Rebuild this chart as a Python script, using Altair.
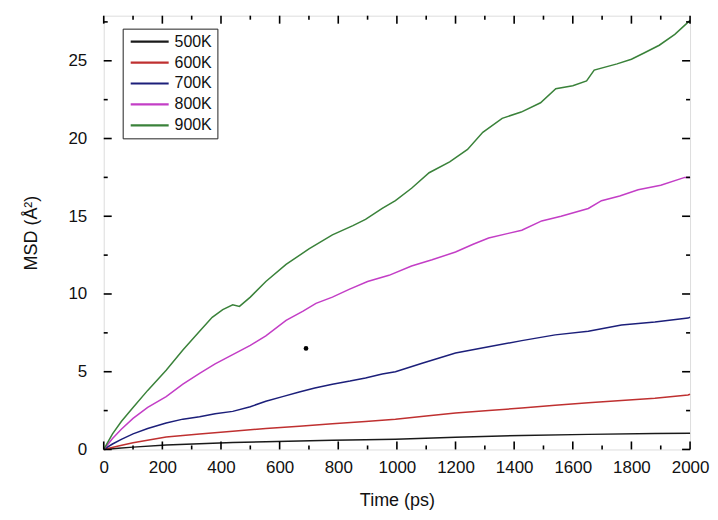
import altair as alt
import pandas as pd

# ---- data ----
series_names = ["500K", "600K", "700K", "800K", "900K"]
series_colors = ["#1a1a1a", "#bf3030", "#1c1f7a", "#c33ec6", "#3a823a"]

t_500 = [0, 50, 100, 213, 327, 440, 553, 667, 780, 893, 995, 1200, 1426, 1653, 1880, 2000]
v_500 = [0, 0.08, 0.15, 0.28, 0.37, 0.45, 0.5, 0.55, 0.6, 0.62, 0.66, 0.78, 0.9, 0.97, 1.02, 1.05]

t_600 = [0, 50, 100, 213, 327, 440, 553, 667, 780, 893, 995, 1100, 1200, 1313, 1426, 1540, 1653, 1766, 1880, 1993, 2000]
v_600 = [0, 0.22, 0.43, 0.8, 1.0, 1.17, 1.35, 1.5, 1.65, 1.8, 1.95, 2.15, 2.35, 2.5, 2.67, 2.85, 3.0, 3.15, 3.3, 3.5, 3.55]

t_700 = [0, 30, 60, 100, 150, 213, 270, 327, 380, 440, 500, 553, 610, 667, 720, 780, 840, 893, 950, 995,
         1086, 1200, 1313, 1426, 1540, 1653, 1766, 1880, 1993, 2000]
v_700 = [0, 0.35, 0.65, 1.0, 1.35, 1.7, 1.95, 2.1, 2.3, 2.45, 2.75, 3.1, 3.4, 3.7, 3.95, 4.2, 4.4, 4.6, 4.85, 5.0,
         5.55, 6.2, 6.6, 7.0, 7.37, 7.6, 8.0, 8.2, 8.45, 8.5]

t_800 = [0, 30, 60, 100, 150, 213, 270, 327, 380, 440, 500, 553, 622, 680, 724, 780, 837, 900, 973, 1050,
         1120, 1200, 1260, 1313, 1380, 1426, 1494, 1560, 1653, 1698, 1760, 1823, 1900, 1982, 2000]
v_800 = [0, 0.7, 1.3, 2.0, 2.7, 3.4, 4.2, 4.9, 5.5, 6.1, 6.7, 7.3, 8.3, 8.9, 9.4, 9.8, 10.3, 10.8, 11.2, 11.8,
         12.2, 12.7, 13.2, 13.6, 13.9, 14.1, 14.7, 15.0, 15.5, 16.0, 16.3, 16.7, 17.0, 17.5, 17.5]

t_900 = [0, 30, 60, 100, 150, 213, 270, 327, 370, 406, 440, 463, 500, 553, 622, 700, 780, 850, 893, 950,
         995, 1050, 1110, 1180, 1241, 1293, 1359, 1424, 1490, 1542, 1600, 1647, 1673, 1751, 1800, 1843,
         1895, 1948, 2000]
v_900 = [0, 1.0, 1.8, 2.7, 3.8, 5.1, 6.4, 7.6, 8.5, 9.0, 9.3, 9.2, 9.8, 10.8, 11.9, 12.9, 13.8, 14.4, 14.8, 15.5,
         16.0, 16.8, 17.8, 18.5, 19.3, 20.4, 21.3, 21.7, 22.3, 23.2, 23.4, 23.7, 24.4, 24.8, 25.1, 25.5,
         26.0, 26.7, 27.6]

dot_t = [690]
dot_v = [6.5]

x_major = [0, 200, 400, 600, 800, 1000, 1200, 1400, 1600, 1800, 2000]
x_minor = [100, 300, 500, 700, 900, 1100, 1300, 1500, 1700, 1900]
y_major = [0, 5, 10, 15, 20, 25]
y_minor = [2.5, 7.5, 12.5, 17.5, 22.5, 27.5]

# ---- tables ----
rows = []
for name, ts, vs in zip(series_names, [t_500, t_600, t_700, t_800, t_900],
                        [v_500, v_600, v_700, v_800, v_900]):
    for t, v in zip(ts, vs):
        rows.append({"t": t, "v": v, "series": name})
df = pd.DataFrame(rows)
df_dot = pd.DataFrame({"t": dot_t, "v": dot_v})
df_xmaj = pd.DataFrame({"t": x_major})
df_xmin = pd.DataFrame({"t": x_minor})
df_ymaj = pd.DataFrame({"v": y_major})
df_ymin = pd.DataFrame({"v": y_minor})

W, H = 588, 435
FONT = "Liberation Sans"

xscale = alt.Scale(domain=[0, 2000], nice=False, zero=False)
yscale = alt.Scale(domain=[0, 27.9], nice=False, zero=False)

x_axis = alt.Axis(title="Time (ps)", values=x_major, tickSize=0, labelPadding=10,
                  domain=False, grid=False, labelFontSize=17, titleFontSize=18,
                  titleFontWeight="normal", titlePadding=16, labelFont=FONT,
                  titleFont=FONT, labelColor="#111", titleColor="#111", format="d",
                  labelFlush=False)
y_axis = alt.Axis(title="MSD (Å²)", values=y_major, tickSize=0, labelPadding=17,
                  domain=False, grid=False, labelFontSize=17, titleFontSize=18,
                  titleFontWeight="normal", titlePadding=28, labelFont=FONT,
                  titleFont=FONT, labelColor="#111", titleColor="#111",
                  labelFlush=False)

X = alt.X("t:Q", scale=xscale, axis=x_axis)
Y = alt.Y("v:Q", scale=yscale, axis=y_axis)

lines = alt.Chart(df).mark_line(strokeWidth=1.5).encode(
    x=X, y=Y,
    color=alt.Color("series:N",
                    scale=alt.Scale(domain=series_names, range=series_colors),
                    legend=alt.Legend(orient="none", legendX=19, legendY=13, title=None,
                                      symbolType="M-1.3,0H8.7", symbolSize=58,
                                      symbolStrokeWidth=2.2, labelFontSize=16, labelFont=FONT,
                                      labelColor="#111", strokeColor="#222", fillColor="white",
                                      padding=5, rowPadding=5, labelOffset=31)),
)

dot = alt.Chart(df_dot).mark_circle(size=22, color="black", opacity=1).encode(x=X, y=Y)

tick_color = "black"
sw = 1.6
bx_maj = alt.Chart(df_xmaj).mark_rule(color=tick_color, strokeWidth=sw).encode(
    x=X, y=alt.value(H), y2=alt.value(H - 8))
bx_min = alt.Chart(df_xmin).mark_rule(color=tick_color, strokeWidth=sw).encode(
    x=X, y=alt.value(H), y2=alt.value(H - 4))
tx_maj = alt.Chart(df_xmaj).mark_rule(color=tick_color, strokeWidth=sw).encode(
    x=X, y=alt.value(0), y2=alt.value(8))
tx_min = alt.Chart(df_xmin).mark_rule(color=tick_color, strokeWidth=sw).encode(
    x=X, y=alt.value(0), y2=alt.value(4))
ly_maj = alt.Chart(df_ymaj).mark_rule(color=tick_color, strokeWidth=sw).encode(
    y=Y, x=alt.value(0), x2=alt.value(8))
ly_min = alt.Chart(df_ymin).mark_rule(color=tick_color, strokeWidth=sw).encode(
    y=Y, x=alt.value(0), x2=alt.value(4))
ry_maj = alt.Chart(df_ymaj).mark_rule(color=tick_color, strokeWidth=sw).encode(
    y=Y, x=alt.value(W), x2=alt.value(W - 8))
ry_min = alt.Chart(df_ymin).mark_rule(color=tick_color, strokeWidth=sw).encode(
    y=Y, x=alt.value(W), x2=alt.value(W - 4))

chart = alt.layer(
    lines, dot, bx_maj, bx_min, tx_maj, tx_min, ly_maj, ly_min, ry_maj, ry_min
).properties(
    width=W, height=H,
    autosize=alt.AutoSizeParams(type="none"),
    padding={"left": 96, "top": 7, "right": 20, "bottom": 60},
).configure_view(
    stroke="black", strokeWidth=2, clip=False
).configure(background="white")

chart.save("out.html", embed_options={"renderer": "svg", "actions": False})
